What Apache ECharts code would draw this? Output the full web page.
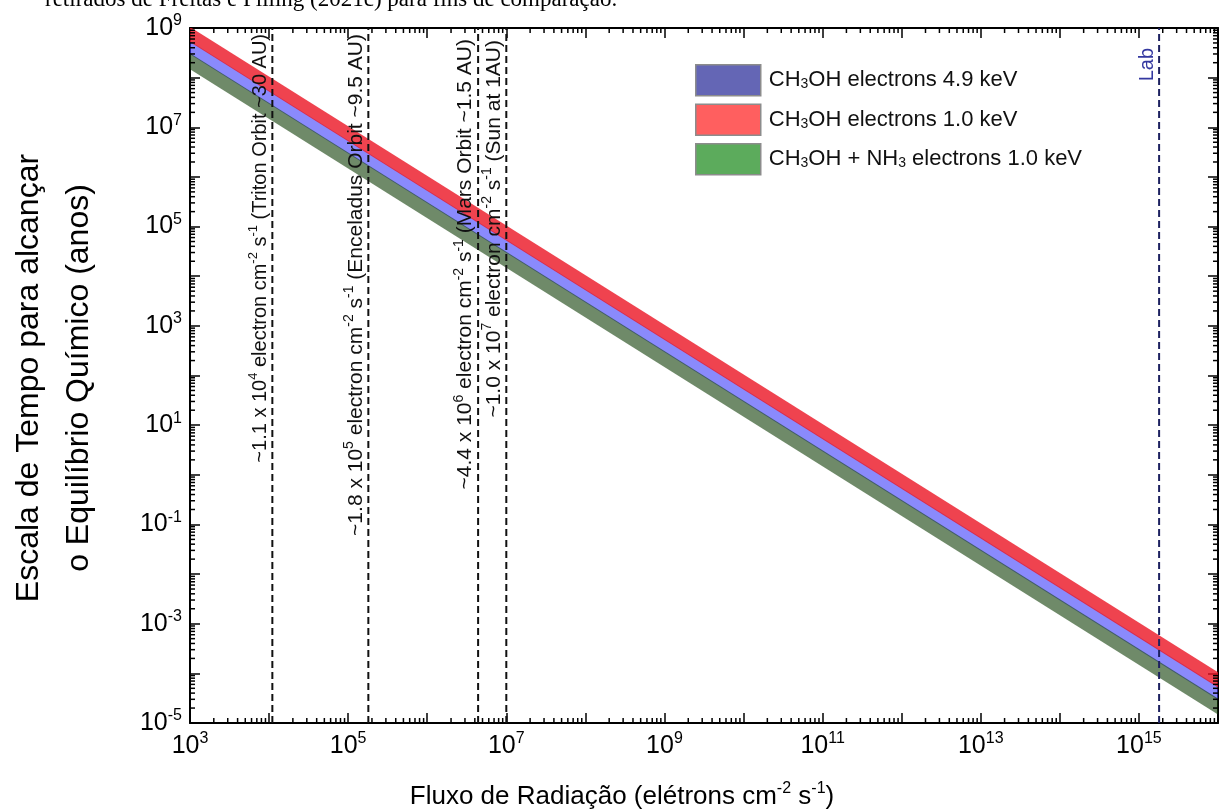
<!DOCTYPE html>
<html>
<head>
<meta charset="utf-8">
<title>Escala de tempo para o equilíbrio químico</title>
<script src="https://cdn.jsdelivr.net/npm/echarts@6/dist/echarts.min.js"></script>
<style>
  html, body { margin: 0; padding: 0; background: #ffffff; }
  #chart { width: 1223px; height: 812px; }
</style>
</head>
<body>
<div id="chart"></div>
<script>
// Radiation flux covered by the plot (electrons cm^-2 s^-1)
const fluxRange = [1e3, 1e16];
// Time scale covered by the plot (years)
const timeRange = [1e-5, 1e9];

// Band edges: time scale (years) at the low and the high end of fluxRange
const band49Lower = [2.95e8, 2.95e-5];
const band49Upper = [5.5e8, 5.5e-5];
const band10Lower = [5.2e8, 5.2e-5];
const band10Upper = [1.05e9, 1.05e-4];
const bandMixLower = [1.48e8, 1.48e-5];
const bandMixUpper = [3.1e8, 3.1e-5];

const seriesNames = [
  'CH3OH electrons 4.9 keV',
  'CH3OH electrons 1.0 keV',
  'CH3OH + NH3 electrons 1.0 keV'
];
const legendTexts = [
  'CH{sub|3}OH electrons 4.9 keV',
  'CH{sub|3}OH electrons 1.0 keV',
  'CH{sub|3}OH + NH{sub|3} electrons 1.0 keV'
];

// Reference fluxes (dashed vertical lines) and their labels
const refFlux = [1.1e4, 1.8e5, 4.4e6, 1.0e7, 1.8e15];
const refLabels = [
  '~1.1 x 10{sup|4} electron cm{sup|-2} s{sup|-1} (Triton Orbit ~30 AU)',
  '~1.8 x 10{sup|5} electron cm{sup|-2} s{sup|-1} (Enceladus Orbit ~9.5 AU)',
  '~4.4 x 10{sup|6} electron cm{sup|-2} s{sup|-1} (Mars Orbit ~1.5 AU)',
  '~1.0 x 10{sup|7} electron cm{sup|-2} s{sup|-1} (Sun at 1AU)',
  'Lab'
];

const FONT = '"Liberation Sans", Arial, Helvetica, sans-serif';
const lg = Math.log10;

const xMin = lg(fluxRange[0]), xMax = lg(fluxRange[1]);
const yMin = lg(timeRange[0]), yMax = lg(timeRange[1]);

// Minor tick positions (2..9 within every decade), in log10 units
function minorTicks(lo, hi) {
  const out = [];
  for (let n = lo; n < hi; n++) {
    for (let k = 2; k <= 9; k++) out.push(n + lg(k));
  }
  return out;
}

function expLabel(v) {
  const n = Math.round(v);
  return Math.abs(n) % 2 === 1 ? '{b|10}{s|' + n + '}' : '';
}
const tickRich = {
  b: { fontSize: 25, lineHeight: 30, fontFamily: FONT, color: '#000' },
  s: { fontSize: 16, lineHeight: 16, verticalAlign: 'top', fontFamily: FONT, color: '#000' }
};

function axisBase(min, max, position, showLabels) {
  return {
    type: 'value',
    position: position,
    min: min,
    max: max,
    interval: 1,
    axisLine: { show: true, onZero: false, lineStyle: { color: '#000', width: 2 } },
    axisTick: { show: true, inside: true, length: 10, lineStyle: { color: '#000', width: 1.5 } },
    splitLine: { show: false },
    axisLabel: showLabels ? {
      show: true, formatter: expLabel, rich: tickRich,
      fontFamily: FONT, color: '#000'
    } : { show: false }
  };
}

// Translucent fills: overlapping edges darken where two bands meet
const bandColors = [
  'rgba(60, 60, 250, 0.6)',
  'rgba(235, 20, 35, 0.8)',
  'rgba(15, 60, 5, 0.6)'
];
const legendColors = ['#6466b5', '#ff5f5f', '#5cab5c'];
const bands = [
  [band49Lower, band49Upper],
  [band10Lower, band10Upper],
  [bandMixLower, bandMixUpper]
];

function bandSeries(i) {
  const lo = bands[i][0], hi = bands[i][1];
  return {
    name: seriesNames[i],
    type: 'custom',
    clip: true,
    z: 2,
    itemStyle: { color: legendColors[i] },
    encode: { x: [0, 3], y: [1, 2, 4, 5] },
    data: [[xMin, lg(lo[0]), lg(hi[0]), xMax, lg(lo[1]), lg(hi[1])]],
    renderItem: function (params, api) {
      const pts = [
        api.coord([api.value(0), api.value(1)]),
        api.coord([api.value(3), api.value(4)]),
        api.coord([api.value(3), api.value(5)]),
        api.coord([api.value(0), api.value(2)])
      ];
      return { type: 'polygon', shape: { points: pts }, style: { fill: bandColors[i] } };
    }
  };
}

const refLineColors = ['#111111', '#111111', '#111111', '#111111', '#1d2160'];
const refTextColors = ['#111111', '#111111', '#111111', '#111111', '#3438a0'];
const refTextTop = [6, 6, 11, 12, 20];
const refFontSize = [20, 21, 21, 21, 20];

const option = {
  backgroundColor: '#ffffff',
  animation: false,
  grid: { left: 190, right: 5, top: 28, bottom: 89, containLabel: false },
  xAxis: [
    axisBase(xMin, xMax, 'bottom', true),
    axisBase(xMin, xMax, 'top', false)
  ],
  yAxis: [
    axisBase(yMin, yMax, 'left', true),
    axisBase(yMin, yMax, 'right', false)
  ],
  legend: {
    orient: 'vertical',
    left: 695,
    top: 64,
    padding: 0,
    itemWidth: 65,
    itemHeight: 31,
    itemGap: 7,
    selectedMode: false,
    data: seriesNames.map(function (n, i) {
      return {
        name: n, icon: 'rect',
        itemStyle: { color: legendColors[i], borderColor: '#8c8c8c', borderWidth: 1.5 }
      };
    }),
    formatter: function (name) { return legendTexts[seriesNames.indexOf(name)]; },
    textStyle: {
      fontFamily: FONT, fontSize: 22, color: '#111', lineHeight: 22,
      padding: [0, 0, 0, 3],
      rich: { sub: { fontFamily: FONT, fontSize: 14, lineHeight: 10, verticalAlign: 'bottom', color: '#111' } }
    }
  },
  graphic: [
    {
      type: 'text', left: 45, top: -12, silent: true,
      style: {
        text: 'retirados de Freitas e Pilling (2021c) para fins de comparação.',
        fontFamily: '"Liberation Serif", "Times New Roman", serif', fontSize: 23, fill: '#000'
      }
    },
    {
      type: 'text', x: 54, y: 378, rotation: Math.PI / 2, silent: true,
      style: {
        text: 'Escala de Tempo para alcançar\no Equilíbrio Químico (anos)',
        fontFamily: FONT, fontSize: 32, lineHeight: 50, fill: '#000',
        align: 'center', verticalAlign: 'middle'
      }
    },
    {
      type: 'text', x: 622, y: 797, silent: true,
      style: {
        text: 'Fluxo de Radiação (elétrons cm{s|-2} s{s|-1})',
        fontFamily: FONT, fontSize: 26, lineHeight: 32, fill: '#000',
        align: 'center', verticalAlign: 'middle',
        rich: { s: { fontFamily: FONT, fontSize: 16, lineHeight: 16, verticalAlign: 'top', fill: '#000' } }
      }
    }
  ],
  series: [
    bandSeries(0),
    bandSeries(2),
    bandSeries(1),
    {
      name: 'refs',
      type: 'custom',
      z: 5,
      encode: { x: 0, y: 1 },
      data: refFlux.map(function (f) { return [lg(f), yMin]; }),
      renderItem: function (params, api) {
        const i = params.dataIndex;
        const b = api.coord([api.value(0), yMin]);
        const t = api.coord([api.value(0), yMax]);
        const fs = refFontSize[i];
        return {
          type: 'group',
          children: [
            {
              type: 'line',
              shape: { x1: b[0], y1: b[1], x2: t[0], y2: t[1] },
              style: { stroke: refLineColors[i], lineWidth: 2, lineDash: [7, 4] }
            },
            {
              type: 'text',
              x: t[0] + 1, y: t[1] + refTextTop[i], rotation: Math.PI / 2,
              style: {
                text: refLabels[i], fill: refTextColors[i],
                fontFamily: FONT, fontSize: fs, lineHeight: Math.round(fs * 1.3),
                align: 'right', verticalAlign: 'bottom',
                rich: { sup: { fontFamily: FONT, fontSize: Math.round(fs * 0.65), lineHeight: Math.round(fs * 0.65), verticalAlign: 'top', fill: refTextColors[i] } }
              }
            }
          ]
        };
      }
    },
    {
      name: 'xMinor',
      type: 'custom',
      z: 6,
      silent: true,
      encode: { x: 0, y: 1 },
      data: minorTicks(xMin, xMax).map(function (v) { return [v, yMin]; }),
      renderItem: function (params, api) {
        const b = api.coord([api.value(0), yMin]);
        const t = api.coord([api.value(0), yMax]);
        const st = { stroke: '#000', lineWidth: 1.5 };
        return {
          type: 'group', children: [
            { type: 'line', shape: { x1: b[0], y1: b[1], x2: b[0], y2: b[1] - 5 }, style: st },
            { type: 'line', shape: { x1: t[0], y1: t[1], x2: t[0], y2: t[1] + 5 }, style: st }
          ]
        };
      }
    },
    {
      name: 'yMinor',
      type: 'custom',
      z: 6,
      silent: true,
      encode: { x: 0, y: 1 },
      data: minorTicks(yMin, yMax).map(function (v) { return [xMin, v]; }),
      renderItem: function (params, api) {
        const l = api.coord([xMin, api.value(1)]);
        const r = api.coord([xMax, api.value(1)]);
        const st = { stroke: '#000', lineWidth: 1.5 };
        return {
          type: 'group', children: [
            { type: 'line', shape: { x1: l[0], y1: l[1], x2: l[0] + 5, y2: l[1] }, style: st },
            { type: 'line', shape: { x1: r[0], y1: r[1], x2: r[0] - 5, y2: r[1] }, style: st }
          ]
        };
      }
    }
  ]
};

const chart = echarts.init(document.getElementById('chart'), null, { renderer: 'canvas' });
chart.setOption(option);
</script>
</body>
</html>
